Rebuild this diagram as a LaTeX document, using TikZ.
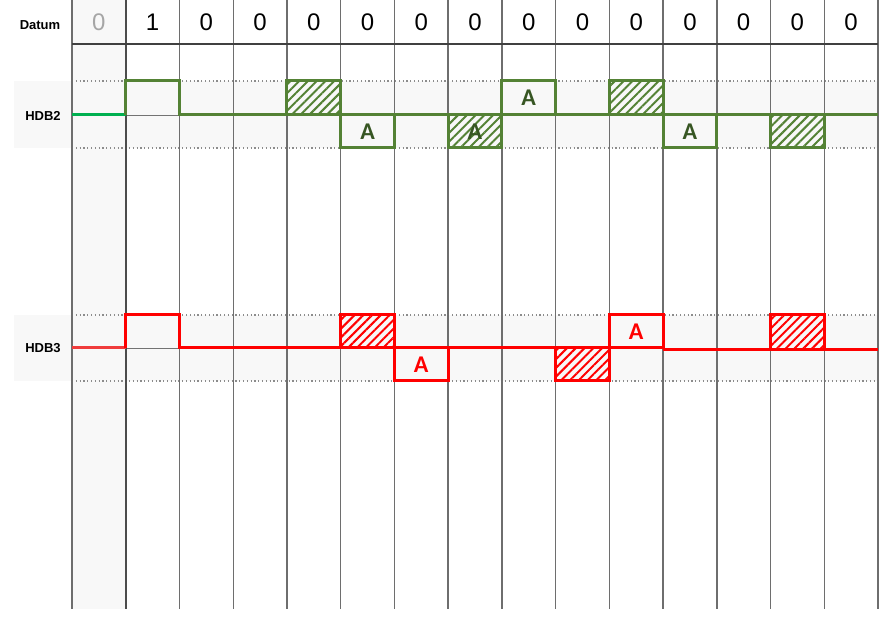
\documentclass[tikz,border=0pt]{standalone}
\usepackage{fontspec}
\setmainfont{Liberation Sans}
\newfontfamily\carl{Carlito}
\usetikzlibrary{patterns.meta}
\definecolor{gA}{HTML}{548235}
\definecolor{gT}{HTML}{375623}
\definecolor{gB}{HTML}{00B050}
\definecolor{rA}{HTML}{FF0000}
\definecolor{rB}{HTML}{F03C3C}
\definecolor{gridc}{HTML}{6E6E6E}
\definecolor{bandc}{HTML}{F8F8F8}
\newcommand\X[1]{72+(#1)*53.733}
\begin{document}
\begin{tikzpicture}[x=1pt,y=-1pt,
  gridline/.style={draw=gridc,line width=1.4pt},
  dotline/.style={draw=black!45,line width=1.2pt,dash pattern=on 1.2pt off 2.6pt},
  midline/.style={draw=black!55,line width=0.9pt},
  sigg/.style={draw=gA,line width=3pt},
  sigr/.style={draw=rA,line width=3pt},
  hatchg/.style={pattern={Lines[angle=45,distance=6.2pt,line width=2pt]},pattern color=gA},
  hatchr/.style={pattern={Lines[angle=45,distance=6.2pt,line width=2pt]},pattern color=rA},
  digit/.style={font=\fontsize{24}{24}\selectfont,anchor=center},
  lbl/.style={font=\bfseries\fontsize{13}{13}\selectfont,anchor=center},
  atextg/.style={font=\carl\bfseries\fontsize{24}{24}\selectfont,text=gT,anchor=center},
  atextr/.style={font=\carl\bfseries\fontsize{24}{24}\selectfont,text=rA,anchor=center}
]
\useasboundingbox[fill=white] (0,0) rectangle (889,617);
% backgrounds
\fill[bandc] (72,0) rectangle (126,609);
\fill[bandc] (14,81) rectangle (878,148);
\fill[bandc] (14,315) rectangle (878,381);
% dotted level lines
\foreach \yy in {81,148,315,381} \draw[dotline] (72,\yy) -- (878,\yy);
% mid lines
\draw[midline] (72,115) -- (878,115);
\draw[midline] (72,348) -- (878,348);
% vertical grid
\foreach \i in {0,...,15} \draw[gridline] ({\X{\i}},0) -- ({\X{\i}},609);
\draw[draw=black!70,line width=1.8pt] ({\X{1}},0) -- ({\X{1}},609);
% header line
\draw[draw=black!75,line width=1.6pt] (72,44) -- (878,44);
% header labels
\node[lbl] (datum) at (40,25) {Datum};
\node[digit,text=black!35] (d0) at ({\X{0.5}},22) {0};
\node[digit] (d1) at ({\X{1.5}},22) {1};
\foreach \i in {2,...,14} \node[digit] (d\i) at ({\X{\i+0.5}},22) {0};
\node[lbl] (hdb2) at (43,116) {HDB2};
\node[lbl] (hdb3) at (43,348) {HDB3};

% ---------- HDB2 ----------
\draw[draw=gB,line width=3pt] (72,115) -- ({\X{1}},115);
\draw[sigg] ({\X{1}},115) -- ({\X{1}},81) -- ({\X{2}},81) -- ({\X{2}},115) -- (878,115);
% hatched up boxes
\foreach \c in {4,10} {
  \fill[hatchg] ({\X{\c}},81) rectangle ({\X{\c+1}},115);
  \draw[sigg] ({\X{\c}},81) rectangle ({\X{\c+1}},115);
}
% hatched down boxes
\foreach \c in {7,13} {
  \fill[hatchg] ({\X{\c}},115) rectangle ({\X{\c+1}},148);
  \draw[sigg] ({\X{\c}},115) rectangle ({\X{\c+1}},148);
}
% A down boxes
\foreach \c in {5,11} {
  \draw[sigg] ({\X{\c}},115) rectangle ({\X{\c+1}},148);
}
% A up box
\draw[sigg] ({\X{8}},81) rectangle ({\X{9}},115);
\node[atextg] (a2a) at ({\X{5.5}},131.5) {A};
\node[atextg] (a2b) at ({\X{7.5}},131.5) {A};
\node[atextg] (a2c) at ({\X{8.5}},98) {A};
\node[atextg] (a2d) at ({\X{11.5}},131.5) {A};

% ---------- HDB3 ----------
\draw[draw=rB,line width=3pt] (72,348) -- ({\X{1}},348);
\draw[sigr] ({\X{1}},348) -- ({\X{1}},315) -- ({\X{2}},315) -- ({\X{2}},348) -- ({\X{11}},348);
\draw[sigr] ({\X{11}},350) -- (878,350);
% hatched up boxes
\fill[hatchr] ({\X{5}},315) rectangle ({\X{6}},348);
\draw[sigr] ({\X{5}},315) rectangle ({\X{6}},348);
\fill[hatchr] ({\X{13}},315) rectangle ({\X{14}},350);
\draw[sigr] ({\X{13}},315) rectangle ({\X{14}},350);
% hatched down box
\fill[hatchr] ({\X{9}},348) rectangle ({\X{10}},381);
\draw[sigr] ({\X{9}},348) rectangle ({\X{10}},381);
% A boxes
\draw[sigr] ({\X{6}},348) rectangle ({\X{7}},381);
\draw[sigr] ({\X{10}},315) rectangle ({\X{11}},348);
\node[atextr] (a3a) at ({\X{6.5}},364.5) {A};
\node[atextr] (a3b) at ({\X{10.5}},331.5) {A};
\end{tikzpicture}
\end{document}
